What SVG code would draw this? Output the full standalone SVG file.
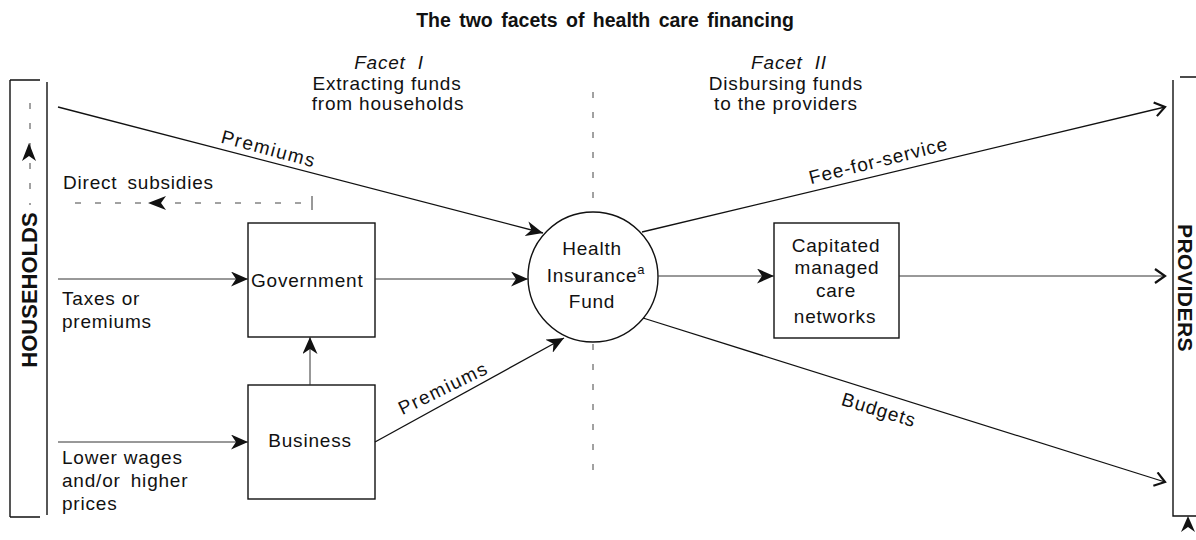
<svg xmlns="http://www.w3.org/2000/svg" width="1196" height="540" viewBox="0 0 1196 540">
<style>
.t{font-family:"Liberation Sans",Arial,sans-serif;font-size:19px;letter-spacing:0.8px;fill:#111}
.m{text-anchor:middle}
.it{font-style:italic}
.b{font-weight:bold}
.ln{stroke:#111;stroke-width:1.3;fill:none}
.thin{stroke:#333;stroke-width:1;fill:none}
.dash{stroke:#444;stroke-width:1;fill:none;stroke-dasharray:6 14}
.box{stroke:#111;stroke-width:1.4;fill:none}
</style>
<defs>
<marker id="barb" markerUnits="userSpaceOnUse" markerWidth="18" markerHeight="15" refX="17" refY="7.5" orient="auto">
<path d="M0,0 L17,7.5 L0,15 L5,7.5 Z" fill="#111"/>
</marker>
<marker id="chev" markerUnits="userSpaceOnUse" markerWidth="14" markerHeight="16" refX="11" refY="8" orient="auto">
<path d="M1,1 L11,8 L1,15" fill="none" stroke="#111" stroke-width="2.2"/>
</marker>
</defs>
<rect width="1196" height="540" fill="#fff"/>

<text class="t b m" x="605" y="27" style="font-size:19.5px;letter-spacing:0;word-spacing:3px">The two facets of health care financing</text>

<g id="facet1">
<text class="t it m" x="389" y="69" style="word-spacing:6px">Facet I</text>
<text class="t m" x="387" y="90">Extracting funds</text>
<text class="t m" x="388" y="110">from households</text>
</g>
<g id="facet2">
<text class="t it m" x="789" y="69" style="word-spacing:6px">Facet II</text>
<text class="t m" x="786" y="90">Disbursing funds</text>
<text class="t m" x="786" y="110">to the providers</text>
</g>

<g id="households">
<path class="box" d="M10,80 V517 M10,80 H40 M10,517 H40 M47,82 V515"/>
<path class="dash" d="M30,103 V205" stroke-dasharray="4 24"/>
<path d="M22,161 L29,143 L36,161 L29,156 Z" fill="#111"/>
<text class="t b m" transform="translate(37,290) rotate(-90)" style="font-size:22px;letter-spacing:0">HOUSEHOLDS</text>
</g>

<g id="providers">
<path class="box" d="M1173,80 V516 H1196 M1180,77 H1196"/>
<text class="t b m" transform="translate(1178,288) rotate(90)" style="font-size:21px;letter-spacing:0.5px">PROVIDERS</text>
<path d="M1181,532 L1188,516 L1195,532 L1188,527 Z" fill="#111"/>
</g>

<g id="government">
<rect class="box" x="248" y="223" width="127" height="114"/>
<text class="t" x="251" y="287">Government</text>
</g>

<g id="business">
<rect class="box" x="248" y="385" width="127" height="114"/>
<text class="t m" x="310" y="447">Business</text>
</g>

<g id="fund">
<circle class="box" cx="593" cy="277" r="65"/>
<text class="t m" x="592" y="255">Health</text>
<text class="t m" x="596" y="282">Insurance<tspan style="font-size:13px" dy="-8">a</tspan></text>
<text class="t m" x="592" y="308">Fund</text>
</g>

<g id="capitated">
<rect class="box" x="774" y="223" width="125" height="115"/>
<text class="t m" x="836" y="252">Capitated</text>
<text class="t m" x="837" y="274">managed</text>
<text class="t m" x="836" y="297">care</text>
<text class="t m" x="835" y="323">networks</text>
</g>

<g id="connectors">
<path class="dash" d="M593,92 V212 M593,344 V478"/>
<path class="ln" d="M58,107 L543,233" marker-end="url(#barb)"/>
<path class="dash" d="M75,203 H312" stroke-dasharray="5 14"/>
<path class="thin" d="M312,196 V210"/>
<path d="M166,196 L148,203 L166,210 L161,203 Z" fill="#111"/>
<path class="thin" d="M58,279 H248" marker-end="url(#barb)"/>
<path class="thin" d="M58,442 H248" marker-end="url(#barb)"/>
<path class="thin" d="M310,385 V337" marker-end="url(#barb)"/>
<path class="thin" d="M375,279 H528" marker-end="url(#barb)"/>
<path class="ln" d="M375,442 L564,338" marker-end="url(#barb)"/>
<path class="thin" d="M658,276 H774" marker-end="url(#barb)"/>
<path class="thin" d="M899,276 H1165" marker-end="url(#chev)"/>
<path class="ln" d="M642,232 L1165,107" marker-end="url(#chev)"/>
<path class="ln" d="M643,318 L1165,482" marker-end="url(#chev)"/>
</g>

<g id="labels">
<text class="t" x="63" y="189" style="word-spacing:4px">Direct subsidies</text>
<text class="t" x="62" y="305">Taxes or</text>
<text class="t" x="62" y="328">premiums</text>
<text class="t" x="62" y="464">Lower wages</text>
<text class="t" x="62" y="487" style="word-spacing:4px">and/or higher</text>
<text class="t" x="62" y="510">prices</text>
<text class="t m" transform="translate(267,155) rotate(15)" style="letter-spacing:1.5px">Premiums</text>
<text class="t m" transform="translate(446,394) rotate(-26)" style="letter-spacing:1.5px">Premiums</text>
<text class="t m" transform="translate(880,167) rotate(-14)" style="letter-spacing:1px">Fee-for-service</text>
<text class="t m" transform="translate(877,416) rotate(17)" style="letter-spacing:1px">Budgets</text>
</g>
</svg>
